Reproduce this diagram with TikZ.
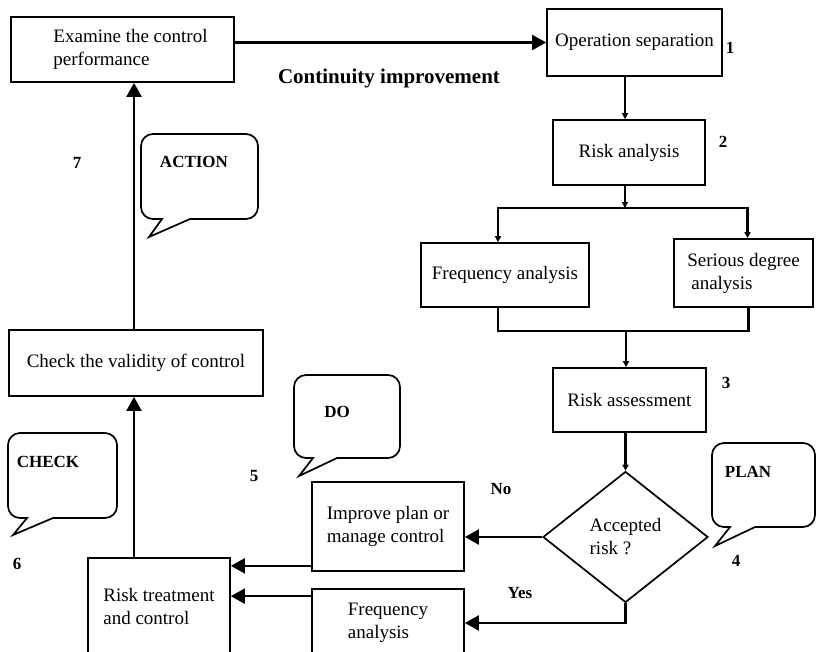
\documentclass[tikz,border=0pt]{standalone}
\usepackage{fontspec}
\setmainfont{Liberation Serif}
\usetikzlibrary{arrows.meta}
\usetikzlibrary{calc}
\usetikzlibrary{shapes.geometric}

\tikzset{
  box/.style={draw, line width=1.7pt, inner sep=0pt, font=\fontsize{19}{23}\selectfont},
  tag/.style={font=\fontsize{17}{20}\selectfont\bfseries},
  wire/.style={line width=2.1pt},
  big/.style={wire, -{Triangle[length=14pt,width=15pt]}},
  small/.style={wire, -{Triangle[length=6pt,width=6pt]}},
  bubble/.style={line width=1.7pt}
}

\begin{document}
\begin{tikzpicture}[x=1pt,y=1pt]
        \useasboundingbox (0,0) rectangle (816,-651);

        % boxes
        \node[box, minimum width=223pt, minimum height=65pt, align=left] (exam) at (122.5,-49.5) {\hspace*{16pt}Examine the control\\\hspace*{16pt}performance};
        \node[box, minimum width=175pt, minimum height=67pt] (opsep) at (634.5,-42.5) {Operation separation};
        \node[box, minimum width=152pt, minimum height=65pt] (riskan) at (629,-152.5) {Risk analysis};
        \node[box, minimum width=168pt, minimum height=64pt] (freq) at (505,-275) {Frequency analysis};
        \node[box, minimum width=139pt, minimum height=68pt, align=left] (serious) at (743.5,-273) {Serious degree\\\hspace*{4pt}analysis};
        \node[box, minimum width=153pt, minimum height=64pt] (riskass) at (629.5,-400) {Risk assessment};
        \node[box, diamond, minimum width=165pt, minimum height=131pt, align=left] (accept) at (625.5,-537) {Accepted\\risk ?};
        \node[box, minimum width=152pt, minimum height=89pt, align=left] (improve) at (388,-526.5) {Improve plan or\\manage control};
        \node[box, minimum width=152pt, minimum height=68pt, align=left] (freq2) at (388,-623) {Frequency\\analysis};
        \node[box, minimum width=142pt, minimum height=96pt, align=left] (treat) at (159,-606) {Risk treatment\\and control};
        \node[box, minimum width=254pt, minimum height=66pt] (check) at (136,-363) {Check the validity of control};

        % helper points
        \coordinate (col) at (625,0);
        \coordinate (split) at (625,-208);
        \coordinate (merge) at (626,-331);
        \coordinate (upcol) at (134,0);

        % connectors
        \draw[big] (exam.east |- opsep.west) -- (opsep.west);
        \draw[small] (opsep.south -| col) -- (riskan.north -| col);
        \draw[small] (riskan.south -| split) -- (split);
        \draw[small] (split) -| ([xshift=-7pt]freq.north);
        \draw[small] (split) -| ([xshift=4pt]serious.north);
        \draw[wire] ([xshift=-7pt]freq.south) |- (merge) -| ([xshift=5pt]serious.south);
        \draw[small] (merge) -- (riskass.north -| merge);
        \draw[small] (riskass.south -| accept.north) -- (accept.north);
        \draw[big] (accept.west) -- (accept.west -| improve.east);
        \draw[big] (accept.south) |- (freq2.east);
        \draw[big] ($(improve.south west)+(0,6)$) -- ($(improve.south west -| treat.east)+(0,6)$);
        \draw[big] ($(freq2.north west)+(0,-8)$) -- ($(freq2.north west -| treat.east)+(0,-8)$);
        \draw[big] (treat.north -| upcol) -- (check.south -| upcol);
        \draw[big] (check.north -| upcol) -- (exam.south -| upcol);

        % speech bubbles
        \draw[bubble] (190,-219) [rounded corners=12pt] -- (258,-219) -- (258,-134) -- (141,-134) -- (141,-219) [sharp corners] -- (162,-219) -- (149,-237) -- cycle;
        \draw[bubble] (337,-458) [rounded corners=12pt] -- (400,-458) -- (400,-375) -- (294,-375) -- (294,-458) [sharp corners] -- (313,-458) -- (299,-476) -- cycle;
        \draw[bubble] (53,-518) [rounded corners=12pt] -- (117,-518) -- (117,-433) -- (8,-433) -- (8,-518) [sharp corners] -- (27,-518) -- (13,-535) -- cycle;
        \draw[bubble] (755,-527) [rounded corners=12pt] -- (815,-527) -- (815,-443) -- (712,-443) -- (712,-527) [sharp corners] -- (730,-527) -- (715,-546) -- cycle;

        \node[tag] (action) at (194,-162) {ACTION};
        \node[tag] (do) at (337,-412) {DO};
        \node[tag] (checktag) at (48,-462) {CHECK};
        \node[tag] (plan) at (748,-472) {PLAN};

        % labels
        \node[font=\fontsize{21}{24}\selectfont\bfseries] (cont) at (389,-78) {Continuity improvement};
        \node[tag] (n1) at (730,-48) {1};
        \node[tag] (n2) at (723,-142) {2};
        \node[tag] (n3) at (726,-383) {3};
        \node[tag] (n4) at (736,-561) {4};
        \node[tag] (n5) at (254,-476) {5};
        \node[tag] (n6) at (17,-564) {6};
        \node[tag] (n7) at (77,-163) {7};
        \node[tag] (no) at (501,-489) {No};
        \node[tag] (yes) at (520,-593) {Yes};
    \end{tikzpicture}
\end{document}
